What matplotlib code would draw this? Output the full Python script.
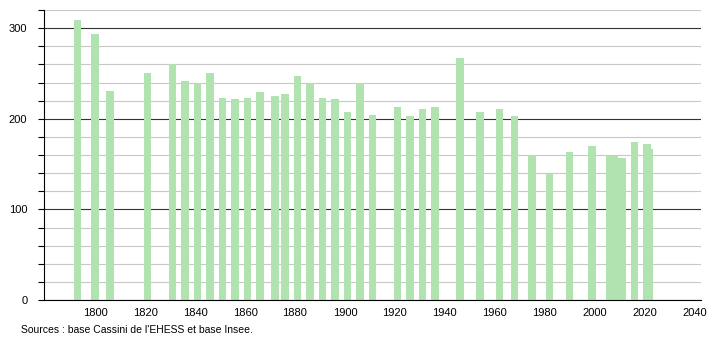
import matplotlib.pyplot as plt
from matplotlib.ticker import MultipleLocator

# census years and population
years = [1793, 1800, 1806, 1821, 1831, 1836, 1841, 1846, 1851, 1856,
         1861, 1866, 1872, 1876, 1881, 1886, 1891, 1896, 1901, 1906,
         1911, 1921, 1926, 1931, 1936, 1946, 1954, 1962, 1968, 1975,
         1982, 1990, 1999, 2006, 2008, 2011, 2016, 2021, 2022]
population = [309, 294, 231, 250, 260, 242, 239, 250, 223, 222,
              223, 230, 225, 227, 247, 239, 223, 222, 208, 239,
              204, 213, 203, 211, 213, 267, 208, 211, 203, 160,
              139, 163, 170, 160, 159, 157, 174, 172, 167]
xticks = list(range(1800, 2041, 20))
source = "Sources : base Cassini de l'EHESS et base Insee."

plt.rcParams['font.family'] = ['Liberation Sans', 'DejaVu Sans']

fig = plt.figure(figsize=(7.1, 3.4), dpi=100)
ax = fig.add_axes([0.062, 0.1176, 0.925, 0.853])

ax.bar(years, population, width=3, color='#b0e3b0', zorder=3)

ax.set_xlim(1779.5, 2042.5)
ax.set_ylim(0, 320)
ax.set_xticks(xticks)
ax.yaxis.set_major_locator(MultipleLocator(100))
ax.yaxis.set_minor_locator(MultipleLocator(20))

ax.grid(axis='y', which='minor', color='#c8c8c8', linewidth=0.8, zorder=1)
ax.grid(axis='y', which='major', color='#333333', linewidth=0.8, zorder=2)

for s in ['top', 'right']:
    ax.spines[s].set_visible(False)
ax.spines['left'].set_linewidth(0.8)
ax.spines['bottom'].set_linewidth(0.8)
ax.spines['left'].set_zorder(4)
ax.spines['bottom'].set_zorder(4)

ax.tick_params(axis='x', length=0, labelsize=8, pad=6)
ax.tick_params(axis='y', which='major', length=4, width=0.8, labelsize=8, pad=8)
ax.tick_params(axis='y', which='minor', length=4, width=0.8)

fig.text(0.029, 0.03, source, fontsize=7.5, va='center', ha='left')

fig.savefig('out.png', dpi=100)
